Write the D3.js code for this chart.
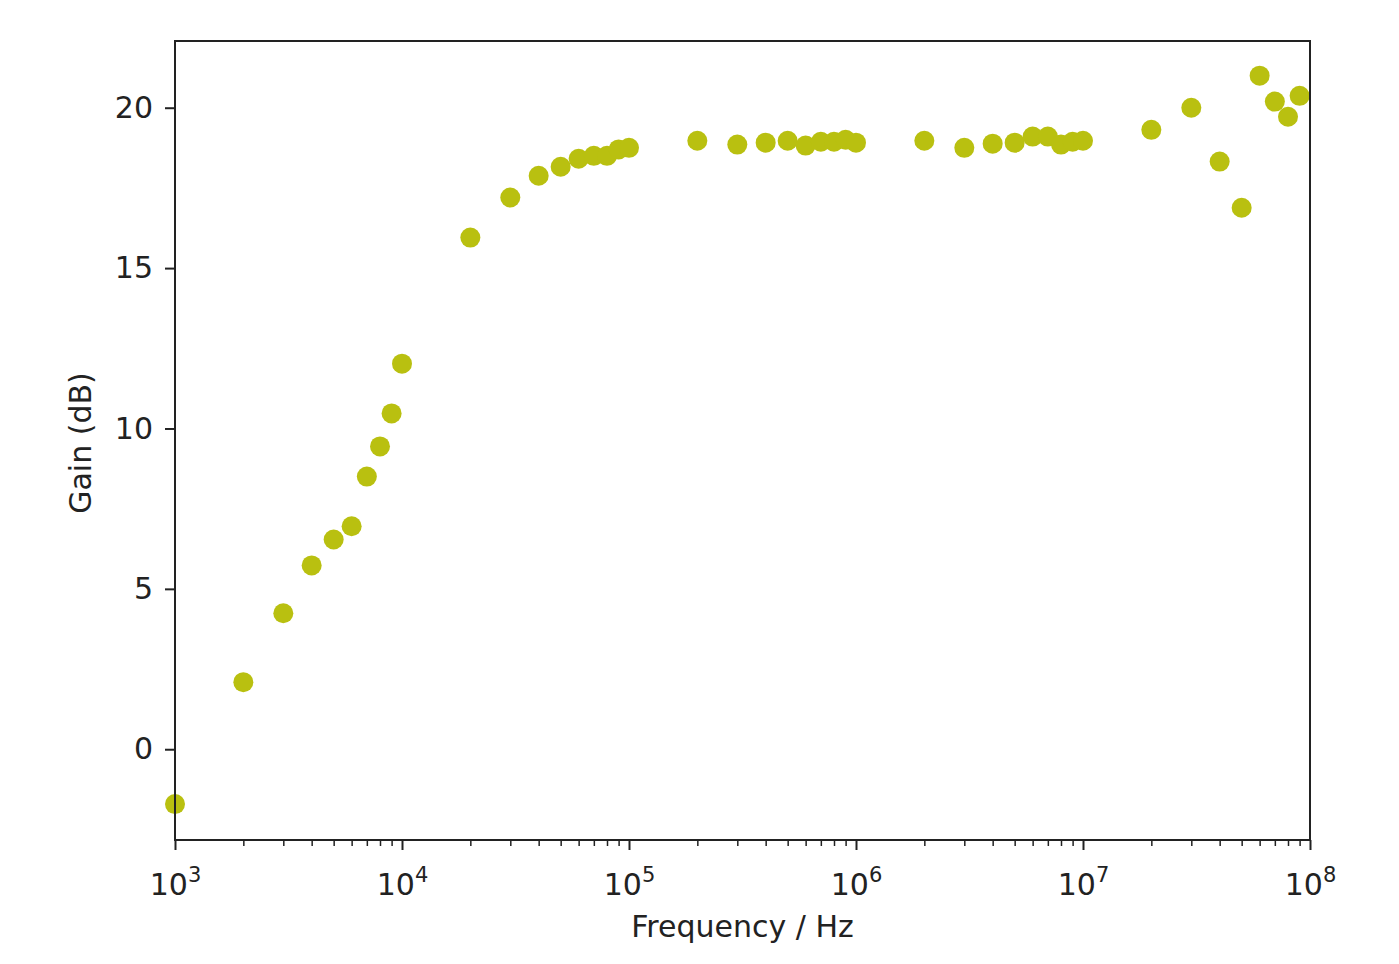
<!DOCTYPE html>
<html>
<head>
<meta charset="utf-8">
<script src="https://cdn.jsdelivr.net/npm/d3@7"></script>
<style>
  body { margin: 0; background: #fff; }
  svg text { font-family: "DejaVu Sans", sans-serif; fill: #222; }
</style>
</head>
<body>
<div id="chart"></div>
<script>
// 频率 (Hz) 与增益 (dB)
const freqs = [
  1e3, 2e3, 3e3, 4e3, 5e3, 6e3, 7e3, 8e3, 9e3,
  1e4, 2e4, 3e4, 4e4, 5e4, 6e4, 7e4, 8e4, 9e4,
  1e5, 2e5, 3e5, 4e5, 5e5, 6e5, 7e5, 8e5, 9e5,
  1e6, 2e6, 3e6, 4e6, 5e6, 6e6, 7e6, 8e6, 9e6,
  1e7, 2e7, 3e7, 4e7, 5e7, 6e7, 7e7, 8e7, 9e7
];
const gains = [
  -1.71, 2.09, 4.24, 5.73, 6.54, 6.95, 8.5, 9.44, 10.47,
  12.02, 15.95, 17.2, 17.88, 18.16, 18.41, 18.5, 18.5, 18.7,
  18.75, 18.97, 18.85, 18.91, 18.97, 18.82, 18.94, 18.94, 19.0,
  18.91, 18.97, 18.75, 18.88, 18.91, 19.1, 19.1, 18.85, 18.94,
  18.97, 19.31, 20.0, 18.32, 16.88, 21.0, 20.19, 19.72, 20.37
];
const yTicks = [0, 5, 10, 15, 20];
const xDecades = [3, 4, 5, 6, 7, 8];

const width = 1399, height = 964;
const margin = { left: 175, right: 89, top: 41, bottom: 124 };
const pointColor = "#b9c010";
const fontSize = 30;

const svg = d3.select("#chart").append("svg")
  .attr("width", width).attr("height", height);

const x = d3.scaleLog().domain([1e3, 1e8])
  .range([margin.left, width - margin.right]);
const y = d3.scaleLinear().domain([-2.83, 22.08])
  .range([height - margin.bottom, margin.top]);

// 点
svg.append("g").selectAll("circle")
  .data(freqs.map((f, i) => ({ f, g: gains[i] })))
  .join("circle")
  .attr("cx", d => x(d.f))
  .attr("cy", d => y(d.g))
  .attr("r", 10)
  .attr("fill", pointColor);

// x 轴 (主刻度 + 次刻度)
const minor = [];
for (let e = 3; e < 8; e++) for (let m = 2; m <= 9; m++) minor.push(m * Math.pow(10, e));

svg.append("g")
  .attr("transform", `translate(0,${height - margin.bottom})`)
  .call(d3.axisBottom(x).tickValues(minor).tickSize(6).tickFormat(""))
  .call(g => g.select(".domain").remove())
  .call(g => g.selectAll("line").attr("stroke", "#222").attr("stroke-width", 1.5));
const xMajor = svg.append("g")
  .attr("transform", `translate(0,${height - margin.bottom})`)
  .call(d3.axisBottom(x).tickValues(xDecades.map(e => Math.pow(10, e))).tickSize(10).tickFormat(""))
  .call(g => g.select(".domain").remove())
  .call(g => g.selectAll("line").attr("stroke", "#222").attr("stroke-width", 2));
xMajor.selectAll(".tick").each(function (d) {
  const t = d3.select(this).append("text")
    .attr("y", 55).attr("text-anchor", "middle")
    .attr("font-size", fontSize).attr("fill", "#222");
  t.append("tspan").text("10");
  t.append("tspan").attr("dy", -13).attr("font-size", 21)
    .text(Math.round(Math.log10(d)));
});

// y 轴
svg.append("g")
  .attr("transform", `translate(${margin.left},0)`)
  .call(d3.axisLeft(y).tickValues(yTicks).tickSize(10).tickPadding(12))
  .call(g => g.select(".domain").remove())
  .call(g => g.selectAll("line").attr("stroke", "#222").attr("stroke-width", 2))
  .call(g => g.selectAll("text").attr("font-size", fontSize).attr("fill", "#222")
    .attr("font-family", "DejaVu Sans, sans-serif"));

// 边框
svg.append("rect")
  .attr("x", margin.left).attr("y", margin.top)
  .attr("width", width - margin.left - margin.right)
  .attr("height", height - margin.top - margin.bottom)
  .attr("fill", "none").attr("stroke", "#222").attr("stroke-width", 2);

// 轴标题
svg.append("text")
  .attr("x", (margin.left + width - margin.right) / 2)
  .attr("y", 937)
  .attr("text-anchor", "middle")
  .attr("font-size", fontSize)
  .text("Frequency / Hz");
svg.append("text")
  .attr("transform", `translate(91,443) rotate(-90)`)
  .attr("text-anchor", "middle")
  .attr("font-size", fontSize)
  .text("Gain (dB)");
</script>
</body>
</html>
